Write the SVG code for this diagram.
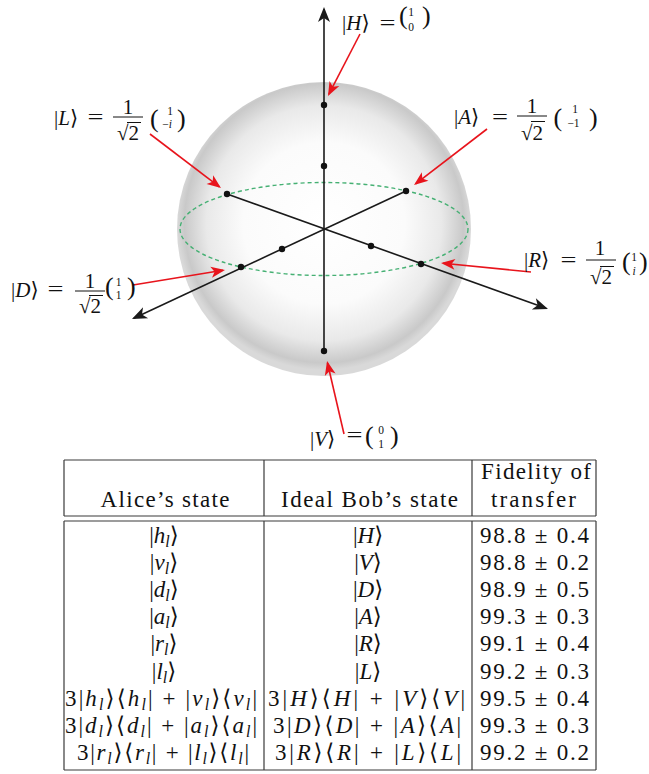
<svg xmlns="http://www.w3.org/2000/svg" width="649" height="774" viewBox="0 0 649 774" font-family="'Liberation Serif', 'Times New Roman', Times, serif">
<style>
.f{font-family:'Liberation Serif','Times New Roman',Times,'DejaVu Serif',serif;fill:#111}
.l{font-size:21px}
.sm{font-size:11.5px}
.pa{font-size:26px}
.it{font-style:italic}
.t{font-size:23px}
.sb{font-size:16px;font-style:italic}
.ax{stroke:#1a1a1a;stroke-width:1.6;fill:none}
.ra{stroke:#e8141c;stroke-width:1.6;fill:none}
.dot{fill:#111}
.bar{stroke:#111;stroke-width:1}
.tl{stroke:#3a3a3a;stroke-width:1.2;fill:none}
</style>
<defs>
<radialGradient id="sph" cx="0.5" cy="0.48" r="0.5">
<stop offset="0" stop-color="#ffffff"/>
<stop offset="0.55" stop-color="#fbfbfb"/>
<stop offset="0.8" stop-color="#e9e9e9"/>
<stop offset="0.95" stop-color="#c9c9c9"/>
<stop offset="1" stop-color="#d9d9d9"/>
</radialGradient>
<marker id="ak" markerUnits="userSpaceOnUse" markerWidth="20" markerHeight="14" refX="0" refY="0" viewBox="-15 -7 18 14" orient="auto" overflow="visible">
<path d="M2,0 L-13,-6 L-9,0 L-13,6 Z" fill="#1a1a1a"/>
</marker>
<marker id="ar" markerUnits="userSpaceOnUse" markerWidth="18" markerHeight="14" refX="0" refY="0" viewBox="-14 -7 17 14" orient="auto" overflow="visible">
<path d="M2,0 L-12,-5.5 L-8.5,0 L-12,5.5 Z" fill="#e8141c"/>
</marker>
</defs>
<rect width="649" height="774" fill="#ffffff"/>
<g id="sphere">
<circle cx="324" cy="229" r="147" fill="url(#sph)"/>
<ellipse cx="324" cy="229" rx="144" ry="46.5" fill="none" stroke="#45b073" stroke-width="1.4" stroke-dasharray="4 3"/>
</g>
<g id="connectors">
<line class="ax" x1="324" y1="351" x2="324" y2="9" marker-end="url(#ak)"/>
<line class="ax" x1="227" y1="194" x2="546.1" y2="308.3" marker-end="url(#ak)"/>
<line class="ax" x1="406" y1="191" x2="133.8" y2="318.2" marker-end="url(#ak)"/>
<line class="ra" x1="360" y1="34" x2="328.9" y2="94.2" marker-end="url(#ar)"/>
<line class="ra" x1="150" y1="134" x2="219.4" y2="186.8" marker-end="url(#ar)"/>
<line class="ra" x1="487" y1="129" x2="415.6" y2="183.8" marker-end="url(#ar)"/>
<line class="ra" x1="133" y1="285" x2="223" y2="270.3" marker-end="url(#ar)"/>
<line class="ra" x1="531" y1="272" x2="443" y2="263.2" marker-end="url(#ar)"/>
<line class="ra" x1="344" y1="434" x2="327.5" y2="363" marker-end="url(#ar)"/>
</g>
<g id="dots">
<circle class="dot" cx="324" cy="166" r="3.2"/>
<circle class="dot" cx="282" cy="249" r="3.2"/>
<circle class="dot" cx="371" cy="246" r="3.2"/>
</g>
<g id="node-H">
<circle class="dot" cx="324" cy="105" r="3.2"/>
<text class="f l" x="342" y="30">|<tspan class="it">H</tspan>⟩</text>
<text class="f l" x="387.5" y="30" text-anchor="middle" textLength="16" lengthAdjust="spacingAndGlyphs">=</text>
<text class="f pa" x="399" y="24">(</text>
<text class="f sm" text-anchor="middle"><tspan x="411" y="16">1</tspan><tspan x="411" y="31">0</tspan></text>
<text class="f pa" x="422" y="24">)</text>
</g>
<g id="node-L">
<circle class="dot" cx="227" cy="194" r="3.2"/>
<text class="f l" x="54" y="125">|<tspan class="it">L</tspan>⟩</text>
<text class="f l" x="95.5" y="124" text-anchor="middle" textLength="16" lengthAdjust="spacingAndGlyphs">=</text>
<text class="f l" x="128" y="114" text-anchor="middle">1</text>
<line class="bar" x1="113" y1="117" x2="143" y2="117"/>
<text class="f l" x="128" y="140" text-anchor="middle">√2</text>
<line class="bar" x1="127" y1="122.5" x2="141" y2="122.5"/>
<text class="f pa" x="150" y="126.5">(</text>
<text class="f sm" text-anchor="middle"><tspan x="170" y="114.5">1</tspan><tspan x="167" y="128">−<tspan class="it">i</tspan></tspan></text>
<text class="f pa" x="177" y="126.5">)</text>
</g>
<g id="node-A">
<circle class="dot" cx="406" cy="191" r="3.2"/>
<text class="f l" x="454" y="124">|<tspan class="it">A</tspan>⟩</text>
<text class="f l" x="500" y="124" text-anchor="middle" textLength="16" lengthAdjust="spacingAndGlyphs">=</text>
<text class="f l" x="532" y="113" text-anchor="middle">1</text>
<line class="bar" x1="517" y1="116" x2="547" y2="116"/>
<text class="f l" x="532" y="140" text-anchor="middle">√2</text>
<line class="bar" x1="531" y1="121.5" x2="545" y2="121.5"/>
<text class="f pa" x="553.5" y="125.5">(</text>
<text class="f sm" text-anchor="middle"><tspan x="575" y="113">1</tspan><tspan x="573.5" y="126.5">−1</tspan></text>
<text class="f pa" x="589" y="125.5">)</text>
</g>
<g id="node-D">
<circle class="dot" cx="241" cy="267" r="3.2"/>
<text class="f l" x="11" y="297">|<tspan class="it">D</tspan>⟩</text>
<text class="f l" x="55.5" y="296" text-anchor="middle" textLength="16" lengthAdjust="spacingAndGlyphs">=</text>
<text class="f l" x="90" y="288" text-anchor="middle">1</text>
<line class="bar" x1="75" y1="291" x2="105" y2="291"/>
<text class="f l" x="90" y="313" text-anchor="middle">√2</text>
<line class="bar" x1="89" y1="295.5" x2="103" y2="295.5"/>
<text class="f pa" x="105" y="294.5">(</text>
<text class="f sm" text-anchor="middle"><tspan x="118.5" y="285.5">1</tspan><tspan x="118.5" y="299">1</tspan></text>
<text class="f pa" x="127" y="294.5">)</text>
</g>
<g id="node-R">
<circle class="dot" cx="421" cy="264" r="3.2"/>
<text class="f l" x="524" y="267">|<tspan class="it">R</tspan>⟩</text>
<text class="f l" x="568.5" y="267" text-anchor="middle" textLength="16" lengthAdjust="spacingAndGlyphs">=</text>
<text class="f l" x="600" y="255" text-anchor="middle">1</text>
<line class="bar" x1="586" y1="260" x2="616" y2="260"/>
<text class="f l" x="601" y="284" text-anchor="middle">√2</text>
<line class="bar" x1="600" y1="266.5" x2="614" y2="266.5"/>
<text class="f pa" x="622" y="269.5">(</text>
<text class="f sm" text-anchor="middle"><tspan x="634" y="261">1</tspan><tspan class="it" x="634" y="274.5">i</tspan></text>
<text class="f pa" x="639" y="269.5">)</text>
</g>
<g id="node-V">
<circle class="dot" cx="324" cy="351" r="3.2"/>
<text class="f l" x="310" y="446">|<tspan class="it">V</tspan>⟩</text>
<text class="f l" x="354.5" y="442" text-anchor="middle" textLength="16" lengthAdjust="spacingAndGlyphs">=</text>
<text class="f pa" x="365" y="443.5">(</text>
<text class="f sm" text-anchor="middle"><tspan x="381" y="434">0</tspan><tspan x="381" y="447.5">1</tspan></text>
<text class="f pa" x="390" y="443.5">)</text>
</g>
<g id="table">
<g class="tl">
<line x1="64" y1="460" x2="596" y2="460"/>
<line x1="64" y1="516" x2="596" y2="516"/>
<line x1="64" y1="521" x2="596" y2="521"/>
<line x1="64" y1="770" x2="596" y2="770"/>
<line x1="64" y1="460" x2="64" y2="516"/>
<line x1="264" y1="460" x2="264" y2="516"/>
<line x1="472" y1="460" x2="472" y2="516"/>
<line x1="596" y1="460" x2="596" y2="516"/>
<line x1="64" y1="521" x2="64" y2="770"/>
<line x1="264" y1="521" x2="264" y2="770"/>
<line x1="472" y1="521" x2="472" y2="770"/>
<line x1="596" y1="521" x2="596" y2="770"/>
</g>
<text class="f t" x="165" y="507" text-anchor="middle" textLength="129">Alice’s state</text>
<text class="f t" x="369.5" y="507" text-anchor="middle" textLength="177">Ideal Bob’s state</text>
<text class="f t" x="536" y="479" text-anchor="middle" textLength="110">Fidelity of</text>
<text class="f t" x="533.5" y="507" text-anchor="middle" textLength="85">transfer</text>

<text class="f t" x="164" y="542.5" text-anchor="middle">|<tspan class="it">h</tspan><tspan class="sb" dy="4">l</tspan><tspan dy="-4">⟩</tspan></text>
<text class="f t" x="164" y="569.7" text-anchor="middle">|<tspan class="it">v</tspan><tspan class="sb" dy="4">l</tspan><tspan dy="-4">⟩</tspan></text>
<text class="f t" x="164" y="596.9" text-anchor="middle">|<tspan class="it">d</tspan><tspan class="sb" dy="4">l</tspan><tspan dy="-4">⟩</tspan></text>
<text class="f t" x="164" y="624.1" text-anchor="middle">|<tspan class="it">a</tspan><tspan class="sb" dy="4">l</tspan><tspan dy="-4">⟩</tspan></text>
<text class="f t" x="164" y="651.3" text-anchor="middle">|<tspan class="it">r</tspan><tspan class="sb" dy="4">l</tspan><tspan dy="-4">⟩</tspan></text>
<text class="f t" x="164" y="678.5" text-anchor="middle">|<tspan class="it">l</tspan><tspan class="sb" dy="4">l</tspan><tspan dy="-4">⟩</tspan></text>
<text class="f t" x="161" y="705.7" text-anchor="middle" textLength="192">3|<tspan class="it">h</tspan><tspan class="sb" dy="4">l</tspan><tspan dy="-4">⟩⟨</tspan><tspan class="it">h</tspan><tspan class="sb" dy="4">l</tspan><tspan dy="-4">| + |</tspan><tspan class="it">v</tspan><tspan class="sb" dy="4">l</tspan><tspan dy="-4">⟩⟨</tspan><tspan class="it">v</tspan><tspan class="sb" dy="4">l</tspan><tspan dy="-4">|</tspan></text>
<text class="f t" x="161" y="732.9" text-anchor="middle" textLength="192">3|<tspan class="it">d</tspan><tspan class="sb" dy="4">l</tspan><tspan dy="-4">⟩⟨</tspan><tspan class="it">d</tspan><tspan class="sb" dy="4">l</tspan><tspan dy="-4">| + |</tspan><tspan class="it">a</tspan><tspan class="sb" dy="4">l</tspan><tspan dy="-4">⟩⟨</tspan><tspan class="it">a</tspan><tspan class="sb" dy="4">l</tspan><tspan dy="-4">|</tspan></text>
<text class="f t" x="163" y="760.1" text-anchor="middle" textLength="172">3|<tspan class="it">r</tspan><tspan class="sb" dy="4">l</tspan><tspan dy="-4">⟩⟨</tspan><tspan class="it">r</tspan><tspan class="sb" dy="4">l</tspan><tspan dy="-4">| + |</tspan><tspan class="it">l</tspan><tspan class="sb" dy="4">l</tspan><tspan dy="-4">⟩⟨</tspan><tspan class="it">l</tspan><tspan class="sb" dy="4">l</tspan><tspan dy="-4">|</tspan></text>

<text class="f t" x="368" y="542.5" text-anchor="middle">|<tspan class="it">H</tspan>⟩</text>
<text class="f t" x="368" y="569.7" text-anchor="middle">|<tspan class="it">V</tspan>⟩</text>
<text class="f t" x="368" y="596.9" text-anchor="middle">|<tspan class="it">D</tspan>⟩</text>
<text class="f t" x="368" y="624.1" text-anchor="middle">|<tspan class="it">A</tspan>⟩</text>
<text class="f t" x="368" y="651.3" text-anchor="middle">|<tspan class="it">R</tspan>⟩</text>
<text class="f t" x="368" y="678.5" text-anchor="middle">|<tspan class="it">L</tspan>⟩</text>
<text class="f t" x="366.5" y="705.7" text-anchor="middle" textLength="197">3|<tspan class="it">H</tspan>⟩⟨<tspan class="it">H</tspan>| + |<tspan class="it">V</tspan>⟩⟨<tspan class="it">V</tspan>|</text>
<text class="f t" x="367" y="732.9" text-anchor="middle" textLength="188">3|<tspan class="it">D</tspan>⟩⟨<tspan class="it">D</tspan>| + |<tspan class="it">A</tspan>⟩⟨<tspan class="it">A</tspan>|</text>
<text class="f t" x="368" y="760.1" text-anchor="middle" textLength="186">3|<tspan class="it">R</tspan>⟩⟨<tspan class="it">R</tspan>| + |<tspan class="it">L</tspan>⟩⟨<tspan class="it">L</tspan>|</text>

<text class="f t" x="534.5" y="542.5" text-anchor="middle" textLength="109">98.8 ± 0.4</text>
<text class="f t" x="534.5" y="569.7" text-anchor="middle" textLength="109">98.8 ± 0.2</text>
<text class="f t" x="534.5" y="596.9" text-anchor="middle" textLength="109">98.9 ± 0.5</text>
<text class="f t" x="534.5" y="624.1" text-anchor="middle" textLength="109">99.3 ± 0.3</text>
<text class="f t" x="534.5" y="651.3" text-anchor="middle" textLength="109">99.1 ± 0.4</text>
<text class="f t" x="534.5" y="678.5" text-anchor="middle" textLength="109">99.2 ± 0.3</text>
<text class="f t" x="534.5" y="705.7" text-anchor="middle" textLength="109">99.5 ± 0.4</text>
<text class="f t" x="534.5" y="732.9" text-anchor="middle" textLength="109">99.3 ± 0.3</text>
<text class="f t" x="534.5" y="760.1" text-anchor="middle" textLength="109">99.2 ± 0.2</text>
</g>
</svg>
